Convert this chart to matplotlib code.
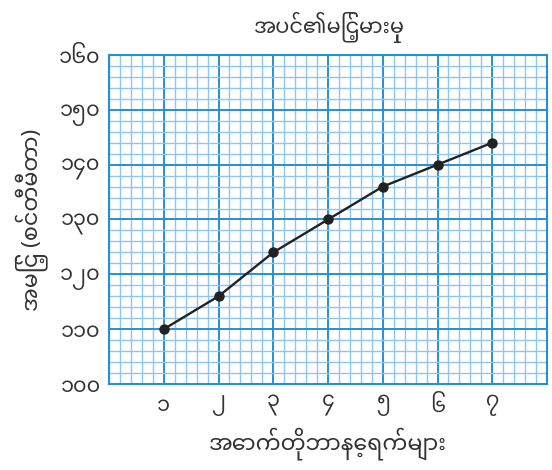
import matplotlib
matplotlib.use('Agg')
import matplotlib.pyplot as plt
from matplotlib.ticker import MultipleLocator

# data
days = [1, 2, 3, 4, 5, 6, 7]
heights = [110, 116, 124, 130, 136, 140, 144]
x_tick_labels = ['၁', '၂', '၃', '၄', '၅', '၆', '၇']
y_ticks = [100, 110, 120, 130, 140, 150, 160]
y_tick_labels = ['၁၀၀', '၁၁၀', '၁၂၀', '၁၃၀', '၁၄၀', '၁၅၀', '၁၆၀']
title = 'အပင်၏မြင့်မားမှု'
x_label = 'အောက်တိုဘာနေ့ရက်များ'
y_label = 'အမြင့် (စင်တီမီတာ)'

plt.rcParams['font.family'] = ['Noto Sans Myanmar', 'DejaVu Sans']

text_color = '#333333'
major_color = '#2590d4'
minor_color = '#8ec6ec'

fig = plt.figure(figsize=(5.52, 4.70), dpi=100)
ax = fig.add_axes([0.1975, 0.183, 0.7935, 0.70])

ax.set_xlim(0, 8)
ax.set_ylim(100, 160)
ax.xaxis.set_major_locator(MultipleLocator(1))
ax.xaxis.set_minor_locator(MultipleLocator(0.2))
ax.yaxis.set_major_locator(MultipleLocator(10))
ax.yaxis.set_minor_locator(MultipleLocator(2))
ax.grid(which='minor', color=minor_color, linewidth=1.0)
ax.grid(which='major', color=major_color, linewidth=1.4)
ax.set_axisbelow(True)

ax.plot(days, heights, color='#222222', linewidth=1.7, marker='o',
        markersize=6.5, zorder=3)

ax.set_xticks(days)
ax.set_xticklabels(x_tick_labels)
ax.set_yticks(y_ticks)
ax.set_yticklabels(y_tick_labels)
ax.tick_params(which='both', length=0, labelsize=15, labelcolor=text_color)
ax.tick_params(axis='x', pad=8)
ax.tick_params(axis='y', pad=6)

for sp in ax.spines.values():
    sp.set_color(major_color)
    sp.set_linewidth(1.5)

ax.set_title(title, fontsize=15, color=text_color, pad=16)
ax.set_xlabel(x_label, fontsize=16, color=text_color, labelpad=8)
ax.set_ylabel(y_label, fontsize=16, color=text_color, labelpad=8)

fig.savefig('out.png', dpi=100)
